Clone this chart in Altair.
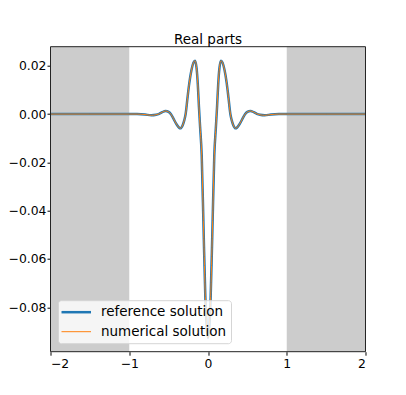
import altair as alt
import pandas as pd

# curve samples (x, real part)
x_vals = [-2.00, -1.50, -1.00, -0.90, -0.80, -0.72, -0.66, -0.62, -0.58, -0.54, -0.50, -0.47,
          -0.44, -0.40, -0.352, -0.32, -0.30, -0.284, -0.26, -0.238, -0.21, -0.185, -0.165,
          -0.145, -0.13, -0.115, -0.10, -0.08, -0.056, -0.034, -0.0165, 0.0,
          0.0165, 0.034, 0.056, 0.08, 0.10, 0.115, 0.13, 0.145, 0.165, 0.185, 0.21, 0.238,
          0.26, 0.284, 0.30, 0.32, 0.352, 0.40, 0.44, 0.47, 0.50, 0.54, 0.58, 0.62, 0.66,
          0.72, 0.80, 0.90, 1.00, 1.50, 2.00]
ref_vals = [0.0, 0.0, 0.0, 0.0, -0.0002, -0.0005, -0.0003, 0.0001, 0.0008, 0.0013, 0.0009, -0.0001,
            -0.0018, -0.0042, -0.0059, -0.0045, -0.0024, 0.0, 0.0068, 0.0127, 0.0182, 0.0213, 0.0221,
            0.0190, 0.0126, 0.0030, -0.0055, -0.0170, -0.0480, -0.0756, -0.0880, -0.0927,
            -0.0880, -0.0756, -0.0480, -0.0170, -0.0055, 0.0030, 0.0126, 0.0190, 0.0221, 0.0213,
            0.0182, 0.0127, 0.0068, 0.0, -0.0024, -0.0045, -0.0059, -0.0042, -0.0018, -0.0001,
            0.0009, 0.0013, 0.0008, 0.0001, -0.0003, -0.0005, -0.0002, 0.0, 0.0, 0.0, 0.0]
num_vals = list(ref_vals)

band_start = [-2.0, 1.0]
band_end = [-1.0, 2.0]

series_names = ["reference solution", "numerical solution"]
series_colors = ["#1f77b4", "#ff7f0e"]
title_text = "Real parts"

x_ticks = [-2, -1, 0, 1, 2]
y_ticks = [-0.08, -0.06, -0.04, -0.02, 0.0, 0.02]
x_domain = [-2.0, 2.0]
y_domain = [-0.0984, 0.0279]

FONT = "DejaVu Sans"
TICK_FS = 12.4
FS = 13.5
W, H = 315, 305

xs = alt.Scale(domain=x_domain, nice=False, zero=False)
ys = alt.Scale(domain=y_domain, nice=False, zero=False)

x_axis = alt.Axis(values=x_ticks, format="d", title=None, grid=False, domain=False,
                  tickColor="black", tickSize=3.5, tickWidth=1, labelPadding=2,
                  labelFont=FONT, labelFontSize=TICK_FS, labelColor="black")
y_axis = alt.Axis(values=y_ticks, format=".2f", title=None, grid=False, domain=False,
                  tickColor="black", tickSize=3.5, tickWidth=1, labelPadding=1,
                  labelFont=FONT, labelFontSize=TICK_FS, labelColor="black")

bands_df = pd.DataFrame({"a": band_start, "b": band_end})
bands = alt.Chart(bands_df).mark_rect(color="#cccccc").encode(
    x=alt.X("a:Q", scale=xs, axis=x_axis),
    x2="b:Q",
)

ref_df = pd.DataFrame({"x": x_vals, "y": ref_vals})
num_df = pd.DataFrame({"x": x_vals, "y": num_vals})

ref_line = alt.Chart(ref_df).mark_line(color=series_colors[0], strokeWidth=2.5,
                                       interpolate="monotone", clip=True).encode(
    x=alt.X("x:Q", scale=xs, axis=x_axis),
    y=alt.Y("y:Q", scale=ys, axis=y_axis),
)
num_line = alt.Chart(num_df).mark_line(color=series_colors[1], strokeWidth=1,
                                       interpolate="monotone", clip=True).encode(
    x=alt.X("x:Q", scale=xs, axis=x_axis),
    y=alt.Y("y:Q", scale=ys, axis=y_axis),
)

one = pd.DataFrame({"k": [0]})

# axes frame on top of the shaded bands
frame = alt.Chart(one).mark_rect(fillOpacity=0, stroke="#222222", strokeWidth=1).encode(
    x=alt.value(0), x2=alt.value(W), y=alt.value(0), y2=alt.value(H))

title = alt.Chart(one).mark_text(text=title_text, font=FONT, fontSize=FS, color="black",
                                 align="center", baseline="alphabetic").encode(
    x=alt.value(W / 2), y=alt.value(-2.5))

# legend drawn by hand (box, line samples, labels)
leg_box = alt.Chart(one).mark_rect(fill="white", fillOpacity=0.8, stroke="#d5d5d5",
                                   strokeWidth=1, cornerRadius=3).encode(
    x=alt.value(8), x2=alt.value(181), y=alt.value(254), y2=alt.value(297))
leg_l1 = alt.Chart(one).mark_rule(color=series_colors[0], strokeWidth=2.5).encode(
    x=alt.value(11), x2=alt.value(40.5), y=alt.value(265.5))
leg_l2 = alt.Chart(one).mark_rule(color=series_colors[1], strokeWidth=1).encode(
    x=alt.value(11), x2=alt.value(40.5), y=alt.value(285))
leg_t1 = alt.Chart(one).mark_text(text=series_names[0], font=FONT, fontSize=FS, color="black",
                                  align="left", baseline="middle").encode(
    x=alt.value(50.5), y=alt.value(265.5))
leg_t2 = alt.Chart(one).mark_text(text=series_names[1], font=FONT, fontSize=FS, color="black",
                                  align="left", baseline="middle").encode(
    x=alt.value(50.5), y=alt.value(285.5))

chart = alt.layer(bands, ref_line, num_line, frame, title,
                  leg_box, leg_l1, leg_l2, leg_t1, leg_t2).properties(
    width=W, height=H,
    autosize=alt.AutoSizeParams(type="none"),
    padding={"left": 42.5, "top": 38.7, "right": 32, "bottom": 27},
).configure_view(stroke=None)

chart.save("out.html", embed_options={"renderer": "svg", "actions": False})
